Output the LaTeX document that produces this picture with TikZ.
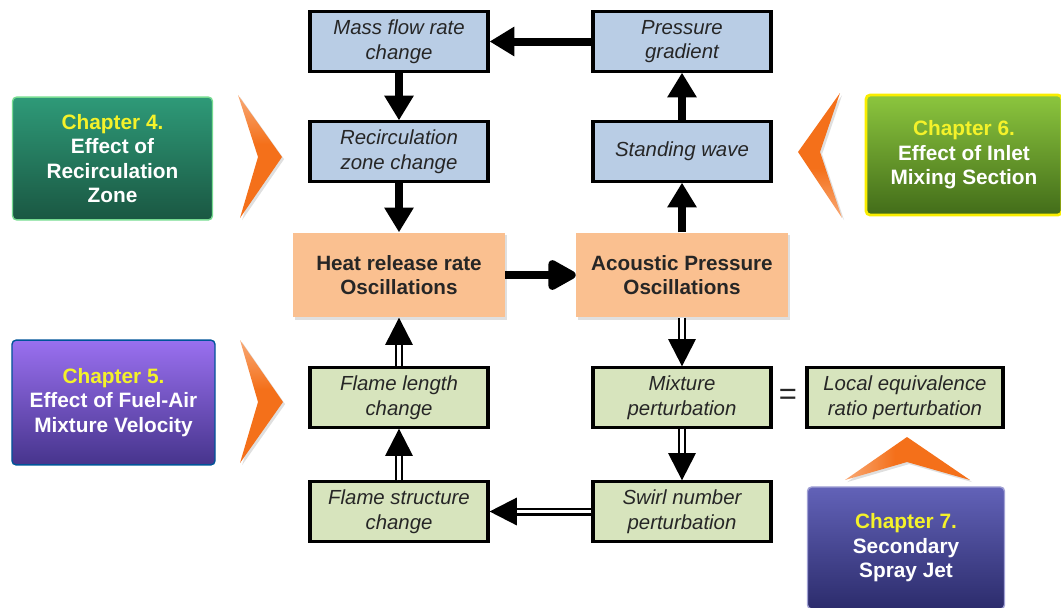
\documentclass[tikz,border=0pt]{standalone}
\usepackage{fontspec}
\setmainfont{Liberation Sans}
\usetikzlibrary{arrows.meta,shadows}

\definecolor{blueBox}{HTML}{B9CDE5}
\definecolor{greenBox}{HTML}{D7E4BD}
\definecolor{oscBox}{HTML}{FAC090}
\definecolor{chTxt}{HTML}{F4F22A}
\definecolor{chevron}{HTML}{F4701A}
\definecolor{chFourTop}{HTML}{2E9A78}
\definecolor{chFourBot}{HTML}{1A5742}
\definecolor{chFiveTop}{HTML}{9A70F0}
\definecolor{chFiveBot}{HTML}{46348C}
\definecolor{chSixTop}{HTML}{8CC63E}
\definecolor{chSixBot}{HTML}{426C19}
\definecolor{chSevenTop}{HTML}{6262B8}
\definecolor{chSevenBot}{HTML}{2C2C6C}
\pgfdeclareverticalshading{chevfade}{100bp}{color(0bp)=(chevron); color(55bp)=(chevron); color(100bp)=(chevron!10)}

\begin{document}
\begin{tikzpicture}[x=0.025cm,y=-0.025cm,
  shade/.style={drop shadow={opacity=0.25,shadow xshift=1.5pt,shadow yshift=-1.5pt}},
  box/.style={draw=black,line width=2.2pt,minimum width=4.45cm,minimum height=1.48cm,
    inner sep=0pt,align=center,text=black!85,font=\fontsize{14.5}{17.6}\selectfont\itshape,shade},
  bluebox/.style={box,fill=blueBox},
  greenbox/.style={box,fill=greenBox},
  oscbox/.style={fill=oscBox,minimum width=5.3cm,minimum height=2.12cm,inner sep=0pt,
    align=center,text=black!85,font=\fontsize{14.7}{17}\selectfont\bfseries,shade},
  chapter/.style={rounded corners=3pt,minimum width=5cm,minimum height=3.07cm,inner sep=0pt,
    align=center,text=white,line width=1pt,font=\fontsize{14.8}{17.4}\selectfont\bfseries},
  fat/.style={line width=0.2cm,-{Triangle[length=0.62cm,width=0.7cm]}},
  dbl/.style={double,double distance=0.08cm,line width=0.06cm,-{Triangle[length=0.68cm,width=0.68cm]}},
  chev/.style={shading=chevfade}]
\useasboundingbox (0,0) rectangle (1061,607);

\node[bluebox] (mass) at (399,41.5) {Mass flow rate\\change};
\node[bluebox] (press) at (682,41.5) {Pressure\\gradient};
\node[bluebox] (recirc) at (399,151.5) {Recirculation\\zone change};
\node[bluebox] (stand) at (682,151.5) {Standing wave};
\node[oscbox] (heat) at (399,275) {Heat release rate\\Oscillations};
\node[oscbox] (acou) at (682,275) {Acoustic Pressure\\Oscillations};
\node[greenbox] (flen) at (399,397.5) {Flame length\\change};
\node[greenbox] (mix) at (682,397.5) {Mixture\\perturbation};
\node[greenbox,minimum width=4.9cm] (local) at (905,397.5) {Local equivalence\\ratio perturbation};
\node[greenbox] (fstr) at (399,511.5) {Flame structure\\change};
\node[greenbox] (swirl) at (682,511.5) {Swirl number\\perturbation};
\node[font=\fontsize{22}{22}\selectfont,text=black!85] (eq) at (788,397) {=};

\draw[fat] (press) -- (mass);
\draw[fat] (mass) -- (recirc);
\draw[fat] (recirc) -- (heat);
\draw[fat,-{Triangle[length=0.8cm,width=0.82cm,round]}] (heat) -- (acou);
\draw[fat] (acou) -- (stand);
\draw[fat] (stand) -- (press);
\draw[dbl] (acou) -- (mix);
\draw[dbl] (mix) -- (swirl);
\draw[dbl] (swirl) -- (fstr);
\draw[dbl] (fstr) -- (flen);
\draw[dbl] (flen) -- (heat);

\node[chapter,top color=chFourTop,bottom color=chFourBot,draw=chFourTop!60!green!60] (ch4) at (112.5,158.5)
  {\textcolor{chTxt}{Chapter 4.}\\Effect of\\Recirculation\\Zone};
\node[chapter,top color=chFiveTop,bottom color=chFiveBot,draw=blue!45!cyan!60!black,minimum width=5.075cm,minimum height=3.12cm] (ch5) at (113.5,402.5)
  {\textcolor{chTxt}{Chapter 5.}\\Effect of Fuel-Air\\Mixture Velocity};
\node[chapter,top color=chSixTop,bottom color=chSixBot,draw=yellow!95!olive,line width=2pt,minimum width=4.9cm,minimum height=3cm] (ch6) at (964,155)
  {\textcolor{chTxt}{Chapter 6.}\\Effect of Inlet\\Mixing Section};
\node[chapter,top color=chSevenTop,bottom color=chSevenBot,draw=chSevenTop!60!white,minimum width=4.925cm,minimum height=3.05cm] (ch7) at (906,548)
  {\textcolor{chTxt}{Chapter 7.}\\Secondary\\Spray Jet};

\shade[chev] (238,95) -- (282,157) -- (240,218) -- (258,157) -- cycle;
\shade[chev] (240,340) -- (283,402) -- (240,463) -- (258,402) -- cycle;
\shade[chev,shading angle=180] (840,93) -- (798,152) -- (842,218) -- (820,152) -- cycle;
\shade[chev,shading angle=90] (845,480) -- (907,437) -- (970,480) -- (907,462) -- cycle;
\end{tikzpicture}
\end{document}
